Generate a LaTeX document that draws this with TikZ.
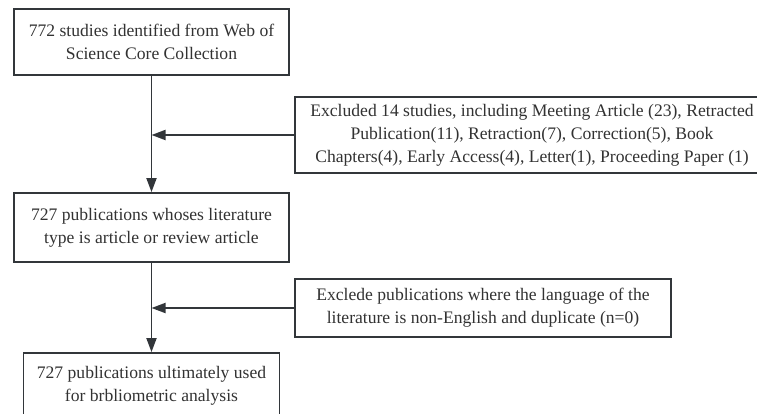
\documentclass[tikz,border=0pt]{standalone}
\usepackage{fontspec}
\setmainfont{Liberation Serif}
\usepackage{tikz}
\usetikzlibrary{arrows.meta}
\usepackage{xcolor}
\definecolor{flowgray}{RGB}{50,54,58}
\definecolor{textgray}{RGB}{50,50,50}

\begin{document}
\begin{tikzpicture}[
    x=1pt, y=-1pt,
    stage/.style={rectangle, draw=flowgray, line width=1.8pt, text=textgray,
        font=\fontsize{17.6}{22.8}\selectfont, align=center, inner sep=0pt},
    arrow/.style={-{Triangle[length=14pt,width=10pt]}, line width=1.8pt, flowgray}
]
    \useasboundingbox (0,0) rectangle (757,414);
    \node[stage, minimum width=275pt, minimum height=66pt] (src) at (151.5,42)
        {772 studies identified from Web of\\Science Core Collection};
    \node[stage, minimum width=474pt, minimum height=76pt] (excl1) at (532,135)
        {Excluded 14 studies, including Meeting Article (23), Retracted\\
         Publication(11), Retraction(7), Correction(5), Book\\
         Chapters(4), Early Access(4), Letter(1), Proceeding Paper (1)};
    \node[stage, minimum width=275pt, minimum height=69pt] (types) at (151.5,227.5)
        {727 publications whoses literature\\type is article or review article};
    \node[stage, minimum width=376pt, minimum height=58pt] (excl2) at (483,308)
        {Exclede publications where the language of the\\
         literature is non-English and duplicate (n=0)};
    \node[stage, minimum width=256pt, minimum height=66pt] (final) at (151.5,386)
        {727 publications ultimately used\\for brbliometric analysis};

    \draw[arrow] (src.south) -- (types.north);
    \draw[arrow] (excl1.west) -- (excl1.west -| src.south);
    \draw[arrow] (types.south) -- (final.north);
    \draw[arrow] (excl2.west) -- (excl2.west -| types.south);
\end{tikzpicture}
\end{document}
